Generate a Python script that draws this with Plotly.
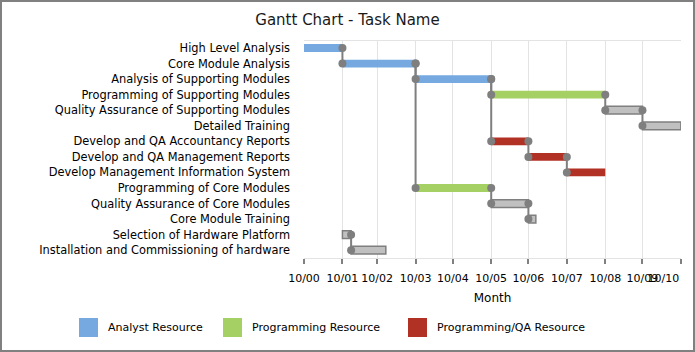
import plotly.graph_objects as go
import pandas as pd

# ---- data ----
tasks = [
    "High Level Analysis",
    "Core Module Analysis",
    "Analysis of Supporting Modules",
    "Programming of Supporting Modules",
    "Quality Assurance of Supporting Modules",
    "Detailed Training",
    "Develop and QA Accountancy Reports",
    "Develop and QA Management Reports",
    "Develop Management Information System",
    "Programming of Core Modules",
    "Quality Assurance of Core Modules",
    "Core Module Training",
    "Selection of Hardware Platform",
    "Installation and Commissioning of hardware",
]
starts = [
    "2010-01-01", "2010-02-01", "2010-04-01", "2010-06-01", "2010-09-01",
    "2010-10-01", "2010-06-01", "2010-07-01", "2010-08-01", "2010-04-01",
    "2010-06-01", "2010-07-01", "2010-02-01", "2010-02-08",
]
finishes = [
    "2010-02-01", "2010-04-01", "2010-06-01", "2010-09-01", "2010-10-01",
    "2010-11-01", "2010-07-01", "2010-08-01", "2010-09-01", "2010-06-01",
    "2010-07-01", "2010-07-07", "2010-02-08", "2010-03-08",
]
resources = [
    "Analyst", "Analyst", "Analyst", "Programming", "None",
    "None", "ProgQA", "ProgQA", "ProgQA", "Programming",
    "None", "None", "None", "None",
]
# dependencies (predecessor index, successor index)
deps = [(0, 1), (1, 2), (1, 9), (2, 3), (2, 6), (3, 4), (4, 5),
        (6, 7), (7, 8), (9, 10), (10, 11), (12, 13)]

tick_dates = ["2010-%02d-01" % m for m in range(1, 12)]
tick_labels = ["10/%02d" % k for k in range(0, 11)]

legend_names = ["Analyst Resource", "Programming Resource", "Programming/QA Resource"]

colors = {"Analyst": "#75A9E0", "Programming": "#A5D064", "ProgQA": "#B13124", "None": "#C0C0C0"}
line_gray = "#7F7F7F"

# ---- figure ----
W, H = 695, 352
L, R, T, B = 304, 681, 41, 258
fig = go.Figure()

s = pd.to_datetime(pd.Series(starts))
f = pd.to_datetime(pd.Series(finishes))
dur_ms = ((f - s).dt.total_seconds() * 1000).tolist()

for res in ["Analyst", "Programming", "ProgQA", "None"]:
    idx = [i for i, r in enumerate(resources) if r == res]
    gray = res == "None"
    fig.add_trace(go.Bar(
        orientation="h",
        y=idx,
        x=[dur_ms[i] for i in idx],
        base=[starts[i] for i in idx],
        width=0.5,
        marker=dict(color=colors[res],
                    line=dict(color=line_gray if gray else colors[res], width=1.5 if gray else 0)),
        showlegend=False,
        hoverinfo="skip",
    ))

# dependency connectors
lx, ly, mx, my = [], [], [], []
for p, q in deps:
    lx += [finishes[p], starts[q], None]
    ly += [p, q, None]
    mx += [finishes[p], starts[q]]
    my += [p, q]
fig.add_trace(go.Scatter(x=lx, y=ly, mode="lines", line=dict(color=line_gray, width=2),
                         showlegend=False, hoverinfo="skip"))
fig.add_trace(go.Scatter(x=mx, y=my, mode="markers", marker=dict(color=line_gray, size=8),
                         showlegend=False, hoverinfo="skip", cliponaxis=False))

pw, ph = R - L, B - T
def px(x):
    return (x - L) / pw
def py(y):
    return (B - y) / ph

# the last label is squeezed left to stay inside the chart, as in the original
tick_text_shown = tick_labels[:-1] + [tick_labels[-1] + "\u00a0" * 10]

shapes = [
    # outer border
    dict(type="rect", xref="paper", yref="paper",
         x0=px(1), x1=px(694), y0=py(351), y1=py(1),
         line=dict(color="#808080", width=2), fillcolor="rgba(0,0,0,0)", layer="below"),
]
annotations = []
leg_cols = [colors["Analyst"], colors["Programming"], colors["ProgQA"]]
leg_x = [79, 223, 408]
for name, c, x0 in zip(legend_names, leg_cols, leg_x):
    shapes.append(dict(type="rect", xref="paper", yref="paper",
                       x0=px(x0), x1=px(x0 + 19), y0=py(337), y1=py(318),
                       line=dict(width=0), fillcolor=c))
    annotations.append(dict(xref="paper", yref="paper", x=px(x0 + 27), y=py(327.5),
                            text=name, showarrow=False, xanchor="left", yanchor="middle",
                            font=dict(size=11, color="#000000")))

fig.update_layout(
    width=W, height=H,
    margin=dict(l=L, r=W - R, t=T, b=H - B, autoexpand=False),
    paper_bgcolor="white", plot_bgcolor="white",
    font=dict(family="DejaVu Sans", size=11, color="#000000"),
    title=dict(text="Gantt Chart - Task Name", x=0.5, xref="container", xanchor="center",
               y=1 - 20 / H, yanchor="middle", font=dict(size=15, color="#1a1a1a")),
    barmode="overlay",
    shapes=shapes,
    annotations=annotations,
    xaxis=dict(
        type="date",
        range=["2010-01-01", "2010-11-01 02:00"],
        tickvals=tick_dates, ticktext=tick_text_shown, tickangle=0,
        showgrid=True, gridcolor="#E3E3E3", gridwidth=1,
        showline=True, linecolor="#E3E3E3", linewidth=1, mirror=True,
        ticks="outside", ticklen=5, tickwidth=2, tickcolor="#808080",
        tickfont=dict(size=11), zeroline=False, ticklabelstandoff=5,
        ticklabeloverflow="allow", automargin=False,
        title=dict(text="Month", font=dict(size=12), standoff=9),
    ),
    yaxis=dict(
        range=[13.5, -0.45],
        tickvals=list(range(len(tasks))), ticktext=tasks,
        showgrid=False, zeroline=False, showline=False,
        ticks="", ticklabelstandoff=13, automargin=False,
        tickfont=dict(size=11.4),
    ),
)

fig.write_html("out.html")
